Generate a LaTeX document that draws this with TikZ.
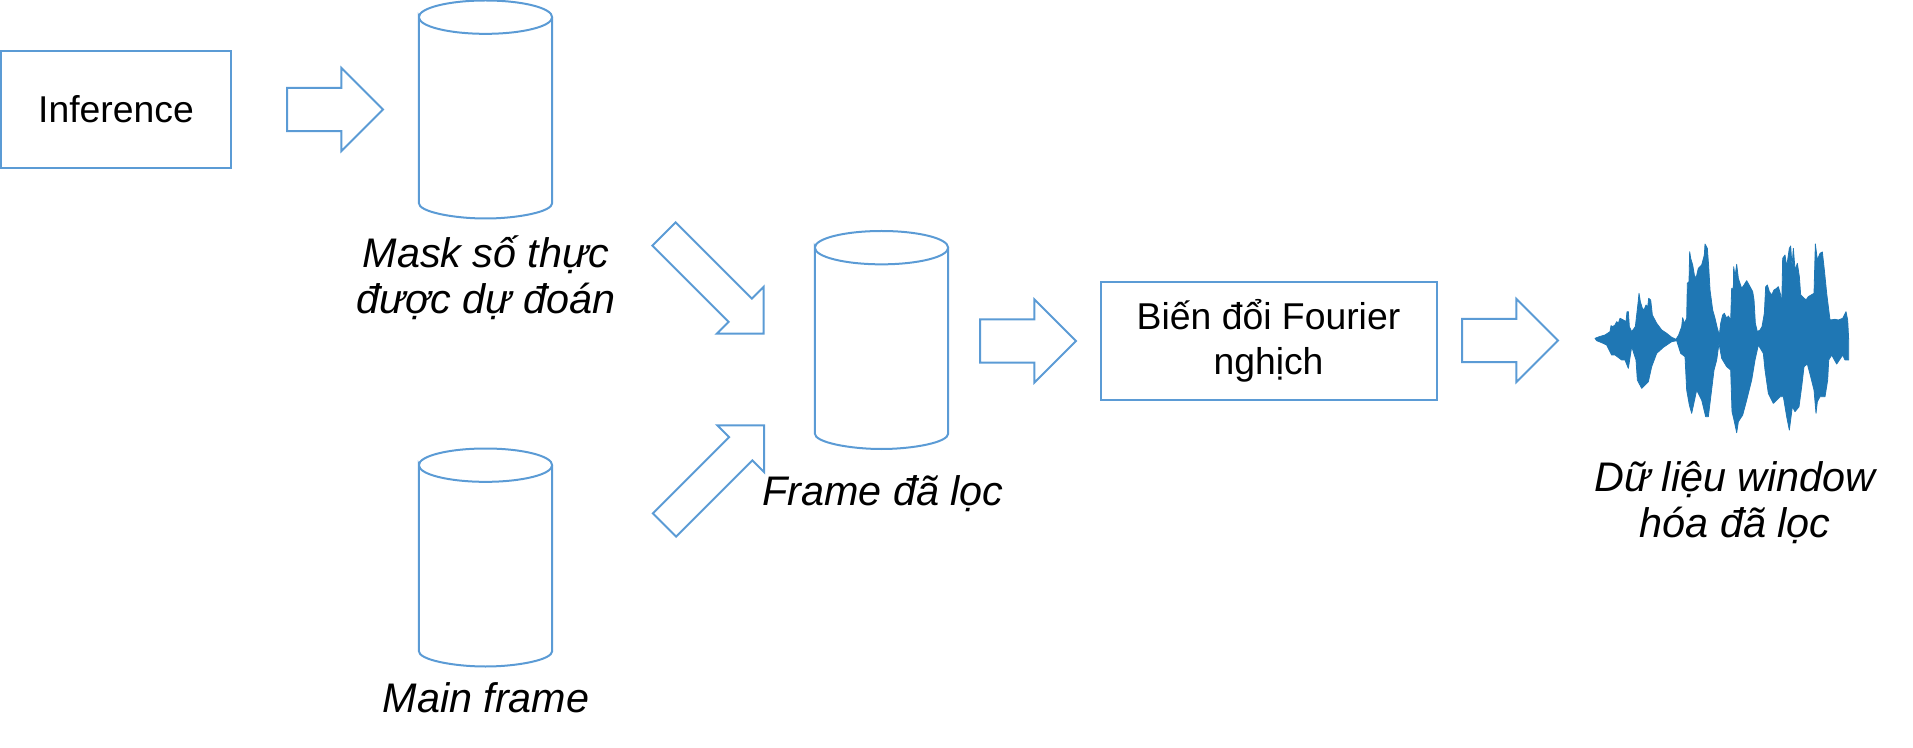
\documentclass[tikz,border=0pt]{standalone}
\usepackage{fontspec}
\setmainfont{Liberation Sans}
\usetikzlibrary{shapes.geometric,shapes.arrows,calc}
\definecolor{lineblue}{HTML}{5B9BD5}
\definecolor{waveblue}{HTML}{1F77B4}
\tikzset{
  x=0.75pt,y=-0.75pt,
  boxnode/.style={draw=lineblue,line width=1.5pt,inner sep=0pt,outer sep=0pt,align=center,text=black,font=\fontsize{28}{33.5}\selectfont},
  bigarrow/.style={draw=lineblue,line width=1.5pt,single arrow,single arrow tip angle=90,single arrow head extend=15pt,single arrow head indent=0pt,inner xsep=0pt,inner ysep=15.4pt,outer sep=0pt,minimum height=72pt,anchor=tail},
  slantarrow/.style={draw=lineblue,line width=1.5pt,single arrow,single arrow tip angle=90,single arrow head extend=12.4pt,single arrow head indent=0pt,inner xsep=0pt,inner ysep=11.6pt,outer sep=0pt,minimum height=105.6pt,anchor=tail},
  drumbody/.style={inner sep=0pt,outer sep=0pt,minimum width=100pt,minimum height=163.5pt,anchor=center},
  drumline/.style={draw=lineblue,line width=1.5pt},
  caption/.style={inner sep=0pt,outer sep=0pt,align=center,text=black,font=\fontsize{31}{34.8}\selectfont\itshape},
}
\newcommand{\drumat}[3]{%
  \node[drumbody] (#1) at (#2,#3) {};
  \draw[drumline] ($(#1.north west)+(0,-12.5pt)$) arc[start angle=180,end angle=0,x radius=50pt,y radius=12.5pt]
    arc[start angle=0,end angle=-180,x radius=50pt,y radius=12.5pt] -- ($(#1.south west)+(0,11.5pt)$)
    .. controls +(0,-6.5pt) and +(-24pt,0) .. (#1.south)
    .. controls +(24pt,0) and +(0,-6.5pt) .. ($(#1.south east)+(0,11.5pt)$) -- ($(#1.north east)+(0,-12.5pt)$);
}
\begin{document}
\begin{tikzpicture}
\useasboundingbox (0,0) rectangle (1913,748);
\node[boxnode,minimum width=173pt,minimum height=88pt] (inf) at (116,109.5) {Inference};
\node[bigarrow] (a1) at (287,109.5) {};
\drumat{c1}{485.5}{109.5}
\node[caption] (t1) at (486,277.5) {Mask số thực\\được dự đoán};
\drumat{c2}{485.5}{557.5}
\node[caption] (t2) at (486,698) {Main frame};
\node[slantarrow,rotate=-45] (a2) at (664,234) {};
\node[slantarrow,rotate=45] (a3) at (664.5,525) {};
\drumat{c3}{881.5}{340}
\node[caption] (t3) at (883,493.5) {Frame đã lọc};
\node[bigarrow] (a4) at (980,341) {};
\node[boxnode,minimum width=252pt,minimum height=88pt] (fft) at (1268.5,341) {Biến đổi Fourier\\nghịch};
\node[bigarrow] (a5) at (1462,340.5) {};
\filldraw[waveblue,line width=0.6pt,line join=round,shift={(1560,220)},x=0.25pt,y=-0.25pt]
 (105,355)--(118,350)--(135,345)--(150,335)--(153,317)--(158,320)--(165,315)--(170,305)--(175,310)--(180,295)--(190,300)--(198,305)--(201,275)--(205,275)--(208,320)--(215,335)--(226,320)--(230,285)--(234,250)--(237,220)--(241,245)--(247,265)--(252,270)--(258,255)--(263,262)--(266,235)--(272,240)--(277,285)--(290,310)--(305,330)--(320,340)--(335,352)--(348,358)--(356,345)--(365,320)--(368,293)--(373,310)--(380,295)--(382,190)--(387,185)--(389,95)--(392,115)--(398,135)--(403,165)--(408,175)--(415,145)--(425,135)--(433,105)--(435,72)--(442,85)--(446,140)--(450,210)--(458,270)--(465,295)--(472,325)--(478,345)--(482,310)--(488,285)--(493,280)--(500,295)--(505,288)--(512,300)--(515,205)--(520,205)--(521,140)--(525,170)--(530,133)--(535,175)--(545,205)--(552,195)--(560,182)--(570,200)--(578,215)--(582,240)--(586,310)--(592,335)--(600,330)--(606,320)--(613,280)--(617,200)--(622,195)--(628,215)--(635,225)--(642,210)--(650,205)--(655,200)--(662,225)--(665,270)--(668,115)--(675,105)--(680,140)--(688,85)--(692,78)--(696,140)--(700,85)--(705,150)--(712,130)--(718,170)--(722,225)--(738,240)--(745,230)--(762,220)--(766,72)--(772,120)--(780,100)--(787,96)--(793,150)--(800,220)--(805,260)--(810,300)--(825,298)--(835,300)--(848,295)--(858,275)--(863,300)--(866,360)
 --(866,420)--(855,420)--(848,405)--(830,432)--(815,405)--(806,420)--(803,480)--(795,530)--(780,530)--(772,545)--(768,580)--(762,510)--(752,470)--(742,432)--(732,440)--(725,500)--(717,560)--(705,575)--(697,560)--(688,630)--(680,590)--(670,530)--(660,530)--(640,550)--(625,520)--(615,450)--(610,400)--(595,375)--(585,420)--(575,480)--(560,540)--(548,585)--(535,605)--(530,638)--(522,600)--(516,575)--(512,450)--(500,440)--(485,415)--(477,370)--(470,420)--(462,450)--(445,590)--(437,590)--(425,540)--(410,510)--(395,580)--(388,555)--(380,510)--(375,410)--(362,400)--(350,362)--(335,365)--(310,382)--(290,400)--(275,440)--(265,485)--(245,505)--(232,480)--(228,420)--(215,380)--(205,445)--(195,420)--(185,420)--(165,405)--(155,405)--(140,375)--(125,368)--(110,362)--cycle;
\node[caption] (t4) at (1735,502.5) {Dữ liệu window\\hóa đã lọc};
\end{tikzpicture}
\end{document}
